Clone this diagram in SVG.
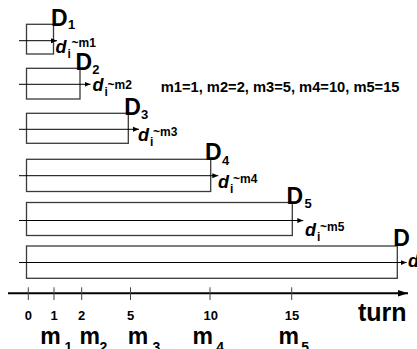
<svg xmlns="http://www.w3.org/2000/svg" width="417" height="349" viewBox="0 0 417 349">
<style>
  .box { fill: #ffffff; stroke: #3a3a3a; stroke-width: 1.3; }
  .arr { stroke: #000; stroke-width: 1; fill: none; }
  .t { font-family: "Liberation Sans", Arial, sans-serif; font-weight: bold; fill: #000; }
  .D { font-size: 23px; }
  .Ds { font-size: 13px; }
  .d { font-size: 18px; font-style: italic; }
  .di { font-size: 12px; }
  .dm { font-size: 12px; }
  .tick { stroke: #444; stroke-width: 1; }
  .tl { font-size: 13px; text-anchor: middle; }
  .m { font-size: 23px; }
  .ms { font-size: 14px; }
</style>
<defs>
  <marker id="ah" viewBox="0 0 6 6" refX="6" refY="3" markerWidth="6" markerHeight="6" markerUnits="userSpaceOnUse" orient="auto">
    <path d="M0,0.5 L6,3 L0,5.5 Z" fill="#000"/>
  </marker>
  <marker id="axh" viewBox="0 0 10 8" refX="10" refY="4" markerWidth="10" markerHeight="8" markerUnits="userSpaceOnUse" orient="auto">
    <path d="M0,0.8 L10,4 L0,7.2 Z" fill="#000"/>
  </marker>
</defs>

<text class="t" x="160.7" y="91.5" font-size="14.7">m1=1, m2=2, m3=5, m4=10, m5=15</text>

<g id="node-D1">
  <rect class="box" x="26.5" y="24.3" width="27" height="29.7"/>
  <text class="t D" x="51" y="25.5">D</text>
  <text class="t Ds" x="68" y="29">1</text>
  <text class="t d" x="55.5" y="52.5">d</text>
  <text class="t di" x="67.5" y="57.5">i</text>
  <text class="t dm" x="71.5" y="46.5">~m1</text>
</g>
<g id="node-D2">
  <rect class="box" x="26.5" y="68.3" width="53.5" height="30.7"/>
  <text class="t D" x="75.6" y="70">D</text>
  <text class="t Ds" x="92.3" y="73.5">2</text>
  <text class="t d" x="92.5" y="91">d</text>
  <text class="t di" x="104.5" y="96">i</text>
  <text class="t dm" x="107.5" y="88.5">~m2</text>
</g>
<g id="node-D3">
  <rect class="box" x="26.5" y="113.3" width="101.8" height="30"/>
  <text class="t D" x="124.3" y="115">D</text>
  <text class="t Ds" x="141" y="119">3</text>
  <text class="t d" x="138" y="141">d</text>
  <text class="t di" x="150" y="146">i</text>
  <text class="t dm" x="153" y="136">~m3</text>
</g>
<g id="node-D4">
  <rect class="box" x="26.5" y="159.3" width="184.2" height="32.2"/>
  <text class="t D" x="205" y="159.5">D</text>
  <text class="t Ds" x="222" y="165">4</text>
  <text class="t d" x="218" y="187.5">d</text>
  <text class="t di" x="230" y="192.5">i</text>
  <text class="t dm" x="233" y="182.5">~m4</text>
</g>
<g id="node-D5">
  <rect class="box" x="26.5" y="202.5" width="265.8" height="33"/>
  <text class="t D" x="286.6" y="203.5">D</text>
  <text class="t Ds" x="304.5" y="208">5</text>
  <text class="t d" x="305" y="235.5">d</text>
  <text class="t di" x="317" y="240.5">i</text>
  <text class="t dm" x="320" y="230.5">~m5</text>
</g>
<g id="node-D6">
  <rect class="box" x="26.5" y="246" width="370.8" height="32.3"/>
  <text class="t D" x="393.3" y="246.2">D</text>
  <text class="t d" x="408" y="267">d</text>
</g>

<g id="connectors">
  <line class="arr" x1="19" y1="40.7" x2="57" y2="40.7" marker-end="url(#ah)"/>
  <line class="arr" x1="19" y1="84.3" x2="90.5" y2="84.3" marker-end="url(#ah)"/>
  <line class="arr" x1="19" y1="129.3" x2="139" y2="129.3" marker-end="url(#ah)"/>
  <line class="arr" x1="19" y1="175.7" x2="218.3" y2="175.7" marker-end="url(#ah)"/>
  <line class="arr" x1="19" y1="220.5" x2="303.3" y2="220.5" marker-end="url(#ah)"/>
  <line class="arr" x1="19" y1="262.5" x2="406.7" y2="262.5" marker-end="url(#ah)"/>
</g>

<g id="axis">
  <line x1="8" y1="293.3" x2="408" y2="293.3" stroke="#000" stroke-width="2" marker-end="url(#axh)"/>
  <line class="tick" x1="28.3" y1="287.3" x2="28.3" y2="300"/>
  <line class="tick" x1="54" y1="287.3" x2="54" y2="300"/>
  <line class="tick" x1="81.7" y1="287.3" x2="81.7" y2="300"/>
  <line class="tick" x1="130.5" y1="287.3" x2="130.5" y2="300"/>
  <line class="tick" x1="210" y1="287.3" x2="210" y2="300"/>
  <line class="tick" x1="291.7" y1="287.3" x2="291.7" y2="300"/>
  <text class="t tl" x="28.3" y="319.5">0</text>
  <text class="t tl" x="54" y="319.5">1</text>
  <text class="t tl" x="81.7" y="319.5">2</text>
  <text class="t tl" x="130.5" y="319.5">5</text>
  <text class="t tl" x="210.8" y="319.5">10</text>
  <text class="t tl" x="292" y="319.5">15</text>
  <text class="t" x="358" y="320.7" font-size="25">turn</text>
  <text class="t m" x="40.2" y="343.5">m</text><text class="t ms" x="64.5" y="351.5">1</text>
  <text class="t m" x="79.5" y="343.5">m</text><text class="t ms" x="99.5" y="351.5">2</text>
  <text class="t m" x="127.8" y="343.5">m</text><text class="t ms" x="152.5" y="351.5">3</text>
  <text class="t m" x="192.5" y="343.5">m</text><text class="t ms" x="216.2" y="351.5">4</text>
  <text class="t m" x="278.5" y="343.5">m</text><text class="t ms" x="301.2" y="351.5">5</text>
</g>
</svg>
